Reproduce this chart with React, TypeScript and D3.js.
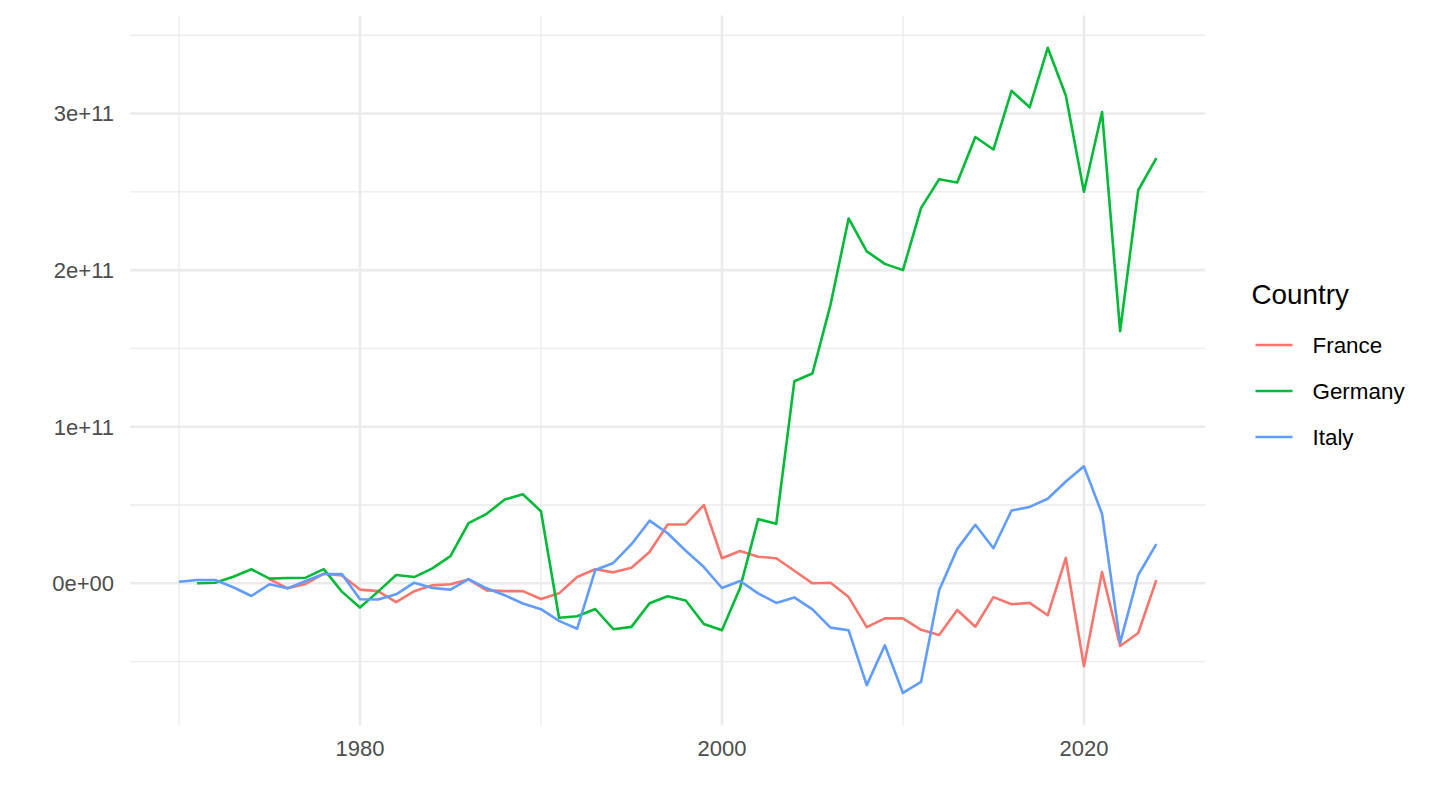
import React from "react";
import * as d3 from "d3";

const countries = ["France", "Germany", "Italy"];
const colors = ["#F8766D", "#00BA38", "#619CFF"];

// values in billions (1e9)
const franceYears = d3.range(1975, 2025);
const franceValues = [
  2.7, -3.2, -0.4, 6.2, 5, -4, -5, -12, -5, -1.3,
  -0.6, 2.5, -4.5, -5, -5, -10, -6.4, 4, 9, 7,
  10, 20, 37.6, 37.6, 50, 16, 20.6, 17, 16, 8,
  0, 0.4, -8.8, -28, -22.4, -22.4, -29.7, -33, -17, -27.7,
  -8.8, -13.4, -12.5, -20.4, 16.2, -53, 7.2, -40, -31.7, 2,
];

const germanyYears = d3.range(1971, 2025);
const germanyValues = [
  0, 0.4, 4.2, 9, 3, 3.4, 3.6, 9.1, -5.3,
  -15.5, -5.3, 5.3, 4, 9.5, 17.4, 38.4, 44.4, 53.5, 56.9,
  46, -22, -21, -16.4, -29.3, -27.8, -12.7, -8.3, -11, -26,
  -30, -3, 41, 38, 129, 134, 178, 233, 212, 204,
  200, 239.6, 258, 256, 285, 277, 314.5, 304, 342, 311.5,
  250, 301, 161, 251, 271.5,
];

const italyYears = d3.range(1970, 2025);
const italyValues = [
  1, 2.1, 2.1, -2.5, -8.1, -0.6, -3.2, 1.5, 6, 6,
  -10.2, -10.3, -7, 0.4, -3, -4, 2.7, -3.2, -7.6, -12.9,
  -16.5, -24, -29, 8.5, 13, 25, 40, 32, 20.8, 10.4,
  -3, 1.5, -6.4, -12.5, -9, -16.6, -28.3, -30, -65, -39.6,
  -70, -63, -4.4, 22, 37.4, 22.4, 46.5, 48.8, 54, 65,
  74.7, 44.4, -38, 5.3, 25,
];

const xMajorTicks = [1980, 2000, 2020];
const xMinorTicks = [1970, 1990, 2010];
const yMajorTicks = [0, 1e11, 2e11, 3e11];
const yTickLabels = ["0e+00", "1e+11", "2e+11", "3e+11"];
const yMinorTicks = [-0.5e11, 0.5e11, 1.5e11, 2.5e11, 3.5e11];
const legendTitle = "Country";

type Pt = { year: number; value: number };

const seriesData: Pt[][] = [
  franceYears.map((y, i) => ({ year: y, value: franceValues[i] * 1e9 })),
  germanyYears.map((y, i) => ({ year: y, value: germanyValues[i] * 1e9 })),
  italyYears.map((y, i) => ({ year: y, value: italyValues[i] * 1e9 })),
];

export default function App() {
  const W = 1440;
  const H = 810;
  const panel = { left: 130.1, right: 1205.2, top: 15.5, bottom: 725.2 };

  const allPts = seriesData.flat();
  const xExt = d3.extent(allPts, (d) => d.year) as [number, number];
  const yExt = d3.extent(allPts, (d) => d.value) as [number, number];
  const xPad = (xExt[1] - xExt[0]) * 0.05;
  const yPad = (yExt[1] - yExt[0]) * 0.05;

  const x = d3
    .scaleLinear()
    .domain([xExt[0] - xPad, xExt[1] + xPad])
    .range([panel.left, panel.right]);
  const y = d3
    .scaleLinear()
    .domain([yExt[0] - yPad, yExt[1] + yPad])
    .range([panel.bottom, panel.top]);

  const line = d3
    .line<Pt>()
    .x((d) => x(d.year))
    .y((d) => y(d.value));

  const font = "'Liberation Sans', Arial, Helvetica, sans-serif";
  const grid = "#EBEBEB";

  const legendX = 1255.5;
  const legendKeyW = 37;
  const legendY0 = 345;
  const legendStep = 46;

  return (
    <svg
      width={W}
      height={H}
      style={{ position: "absolute", left: 0, top: 0, display: "block", background: "#fff" }}
      fontFamily={font}
    >
      {/* minor grid */}
      {yMinorTicks.map((t) => (
        <line key={"ym" + t} x1={panel.left} x2={panel.right} y1={y(t)} y2={y(t)} stroke={grid} strokeWidth={1.3} />
      ))}
      {xMinorTicks.map((t) => (
        <line key={"xm" + t} x1={x(t)} x2={x(t)} y1={panel.top} y2={panel.bottom} stroke={grid} strokeWidth={1.3} />
      ))}
      {/* major grid */}
      {yMajorTicks.map((t) => (
        <line key={"yM" + t} x1={panel.left} x2={panel.right} y1={y(t)} y2={y(t)} stroke={grid} strokeWidth={2.6} />
      ))}
      {xMajorTicks.map((t) => (
        <line key={"xM" + t} x1={x(t)} x2={x(t)} y1={panel.top} y2={panel.bottom} stroke={grid} strokeWidth={2.6} />
      ))}

      {/* lines */}
      {seriesData.map((s, i) => (
        <path
          key={countries[i]}
          d={line(s) || ""}
          fill="none"
          stroke={colors[i]}
          strokeWidth={2.6}
          strokeLinejoin="round"
          strokeLinecap="butt"
        />
      ))}

      {/* y axis labels */}
      {yMajorTicks.map((t, i) => (
        <text
          key={"yl" + t}
          x={114}
          y={y(t)}
          dy="0.36em"
          textAnchor="end"
          fontSize={22}
          fill="#4D4D4D"
        >
          {yTickLabels[i]}
        </text>
      ))}
      {/* x axis labels */}
      {xMajorTicks.map((t) => (
        <text key={"xl" + t} x={x(t)} y={755.5} textAnchor="middle" fontSize={22} fill="#4D4D4D">
          {t}
        </text>
      ))}

      {/* legend */}
      <text x={1251.5} y={304} fontSize={27.8} fill="#000">
        {legendTitle}
      </text>
      {countries.map((c, i) => (
        <g key={"lg" + c}>
          <line
            x1={legendX}
            x2={legendX + legendKeyW}
            y1={legendY0 + i * legendStep}
            y2={legendY0 + i * legendStep}
            stroke={colors[i]}
            strokeWidth={2.6}
          />
          <text x={1312.5} y={legendY0 + i * legendStep} dy="0.36em" fontSize={22.4} fill="#000">
            {c}
          </text>
        </g>
      ))}
    </svg>
  );
}
